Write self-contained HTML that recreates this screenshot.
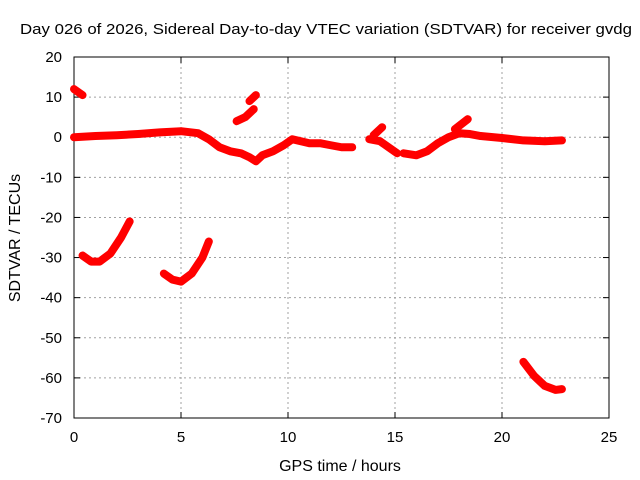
<!DOCTYPE html>
<html><head><meta charset="utf-8"><style>
body{margin:0;background:#fff}
svg{display:block;font-family:"Liberation Sans",sans-serif;font-size:15px}
</style></head><body>
<svg width="640" height="480">
<rect width="640" height="480" fill="#fff"/>
<g id="grid"></g>
<g id="axes"></g>
<g id="series"></g>
<text x="20" y="34" textLength="612" lengthAdjust="spacingAndGlyphs">Day 026 of 2026, Sidereal Day-to-day VTEC variation (SDTVAR) for receiver gvdg</text>
<text x="340" y="471" text-anchor="middle" font-size="16">GPS time / hours</text>
<text transform="translate(20,238) rotate(-90)" text-anchor="middle" font-size="16">SDTVAR / TECUs</text>
</svg>
<script>
const xTicks=[0,5,10,15,20,25];
const yTicks=[20,10,0,-10,-20,-30,-40,-50,-60,-70];
const seg1X=[0,0.4], seg1Y=[12,10.5];
const seg2X=[0,1,2,3,4,5,5.8,6.3,6.8,7.3,7.8,8.2,8.5,8.8,9.3,9.8,10.2,10.6,11,11.5,12,12.5,13],
      seg2Y=[0,0.3,0.5,0.8,1.2,1.5,1.0,-0.5,-2.5,-3.5,-4,-5,-6,-4.5,-3.5,-2,-0.5,-1,-1.5,-1.5,-2,-2.5,-2.5];
const seg3X=[7.6,8.0,8.4], seg3Y=[4,5,7];
const seg4X=[8.2,8.5], seg4Y=[9,10.5];
const seg5X=[13.8,14.3,14.7,15.1], seg5Y=[-0.5,-1,-2.5,-4];
const seg6X=[14.0,14.4], seg6Y=[0.5,2.5];
const seg7X=[15.4,16,16.5,17,17.5,18,18.5,19,20,21,22,22.8], seg7Y=[-4,-4.5,-3.5,-1.5,0,1,0.8,0.3,-0.2,-0.8,-1,-0.8];
const seg8X=[17.8,18.4], seg8Y=[2,4.5];
const seg9X=[0.4,0.8,1.2,1.7,2.2,2.6], seg9Y=[-29.5,-31,-31,-29,-25,-21];
const seg10X=[4.2,4.6,5.0,5.5,6.0,6.3], seg10Y=[-34,-35.5,-36,-34,-30,-26];
const seg11X=[21,21.5,22,22.5,22.8], seg11Y=[-56,-59.5,-62,-63,-62.8];
const segments=[[seg1X,seg1Y],[seg2X,seg2Y],[seg3X,seg3Y],[seg4X,seg4Y],[seg5X,seg5Y],[seg6X,seg6Y],[seg7X,seg7Y],[seg8X,seg8Y],[seg9X,seg9Y],[seg10X,seg10Y],[seg11X,seg11Y]];
const L=74,R=609,T=57,B=418;
const sx=v=>L+(v-0)/25*(R-L);
const sy=v=>T+(20-v)/90*(B-T);
const NS="http://www.w3.org/2000/svg";
function mk(tag,at,parent){const e=document.createElementNS(NS,tag);for(const k in at)e.setAttribute(k,at[k]);parent.appendChild(e);return e;}
const grid=document.getElementById('grid'),axes=document.getElementById('axes'),ser=document.getElementById('series');
xTicks.forEach(t=>{const x=sx(t);
 if(t>0&&t<25){const g=mk('line',{x1:x,y1:T,x2:x,y2:B,stroke:'#a0a0a0','stroke-dasharray':'2,3'},grid);
 
 }
 mk('line',{x1:x,y1:B,x2:x,y2:B-6,stroke:'#000'},axes);
 mk('line',{x1:x,y1:T,x2:x,y2:T+6,stroke:'#000'},axes);
 const tx=mk('text',{x:x,y:B+24,'text-anchor':'middle'},axes);tx.textContent=t;
 
 
});
yTicks.forEach(t=>{const y=sy(t);
 if(t<20&&t>-70){const g=mk('line',{x1:L,y1:y,x2:R,y2:y,stroke:'#a0a0a0','stroke-dasharray':'2,3'},grid);
 
 }
 mk('line',{x1:L,y1:y,x2:L+6,y2:y,stroke:'#000'},axes);
 mk('line',{x1:R,y1:y,x2:R-6,y2:y,stroke:'#000'},axes);
 const tx=mk('text',{x:L-12,y:y+5,'text-anchor':'end'},axes);tx.textContent=t;
 
 
});
mk('rect',{x:L,y:T,width:R-L,height:B-T,fill:'none',stroke:'#000'},axes);
segments.forEach(([xs,ys])=>{
 const pts=xs.map((x,i)=>sx(x)+','+sy(ys[i])).join(' ');
 const p=mk('polyline',{points:pts,fill:'none',stroke:'#f00','stroke-width':8,'stroke-linejoin':'round','stroke-linecap':'round'},ser);
 
 
});
</script>
</body></html>
